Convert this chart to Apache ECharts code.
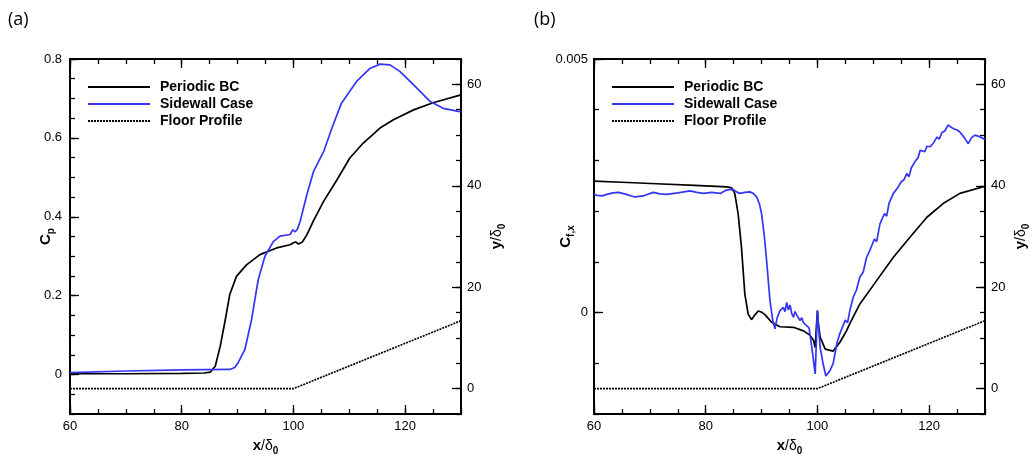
<!DOCTYPE html>
<html>
<head>
<meta charset="utf-8">
<script src="https://cdn.jsdelivr.net/npm/echarts@6.0.0/dist/echarts.min.js"></script>
<style>
html,body{margin:0;padding:0;background:#fff;}
#chart{width:1035px;height:458px;}
</style>
</head>
<body>
<div id="chart"></div>
<script>
// ---------- data ----------
const seriesNames = ['Periodic BC', 'Sidewall Case', 'Floor Profile'];
const xMajorTicks = [60, 80, 100, 120];
const cpMajorTicks = [0, 0.2, 0.4, 0.6, 0.8];
const cfMajorTicks = [0, 0.005];
const yMajorTicks = [0, 20, 40, 60];

// (a) pressure coefficient
const cpPeriodic = [[60,0.002],[70,0.002],[80,0.003],[84,0.004],[85.1,0.006],[86.0,0.021],[86.9,0.072],[87.8,0.139],[88.6,0.203],[89.8,0.249],[91.6,0.278],[94.0,0.304],[97.0,0.321],[99.4,0.329],[100.0,0.334],[100.4,0.336],[100.9,0.331],[101.6,0.336],[102.4,0.354],[103.6,0.390],[105.4,0.439],[107.8,0.494],[110.1,0.549],[112.5,0.587],[115.5,0.625],[117.9,0.646],[121.5,0.671],[125.0,0.689],[130,0.709]];
const cpSidewall = [[60,0.005],[70,0.009],[80,0.012],[88.6,0.013],[89.5,0.018],[90.1,0.030],[91.3,0.063],[92.5,0.139],[93.7,0.241],[94.9,0.300],[96.4,0.337],[97.6,0.351],[99.4,0.355],[99.9,0.367],[100.3,0.362],[100.7,0.368],[101.2,0.388],[102.4,0.456],[103.6,0.515],[105.4,0.565],[106.9,0.625],[108.6,0.688],[111.3,0.743],[113.7,0.776],[115.5,0.787],[117.3,0.785],[119.1,0.768],[122.1,0.726],[124.5,0.692],[126.8,0.675],[130,0.666]];

// (b) skin friction coefficient
const cfPeriodic = [[60,0.00259],[65,0.00257],[71.2,0.00254],[78,0.00251],[83.8,0.00248],[84.65,0.00246],[85.2,0.00235],[85.8,0.00195],[86.4,0.00129],[87.0,0.00037],[87.6,-0.00003],[88.2,-0.00014],[88.7,-0.00006],[89.4,0.00003],[90.0,0.00001],[90.6,-0.00004],[91.8,-0.00019],[93.3,-0.00028],[95.7,-0.00029],[97.5,-0.00036],[98.7,-0.00045],[99.3,-0.00055],[99.6,-0.00069],[99.8,-0.00030],[100.0,0.00004],[100.2,-0.00025],[100.5,-0.00049],[101.4,-0.00072],[102.8,-0.00076],[104.0,-0.00059],[105.2,-0.00036],[105.8,-0.00022],[107.6,0.00017],[110.6,0.00063],[113.6,0.00109],[116.6,0.00149],[119.6,0.00188],[122.5,0.00215],[125.5,0.00235],[129.7,0.00248],[130,0.00249]];
const cfSidewall = [[60,0.00233],[60.5,0.00231],[61.5,0.00230],[62.3,0.00233],[63.4,0.00236],[64.4,0.00237],[65.8,0.00233],[67.3,0.00228],[68.8,0.00230],[70.6,0.00237],[71.8,0.00234],[73.0,0.00233],[75,0.00236],[77.2,0.00240],[78.4,0.00237],[79.6,0.00235],[81,0.00237],[82.6,0.00235],[83.8,0.00242],[84.9,0.00243],[85.5,0.00238],[86.1,0.00235],[87,0.00237],[87.9,0.00238],[88.5,0.00235],[89.1,0.00228],[89.6,0.00215],[90.0,0.00195],[90.5,0.00150],[90.9,0.00103],[91.5,0.00024],[92.0,-0.00015],[92.4,-0.00032],[92.8,-0.00010],[93.3,0.00004],[93.9,0.00010],[94.2,0.00002],[94.5,0.00020],[94.8,0.00005],[95.1,0.00015],[95.4,-0.00002],[95.7,-0.00009],[96.0,0.00002],[96.3,-0.00005],[96.9,-0.00016],[97.2,-0.00010],[97.5,-0.00020],[98.1,-0.00026],[98.5,-0.00030],[99.0,-0.00069],[99.6,-0.00121],[99.8,-0.00060],[100.0,0.00004],[100.2,-0.00030],[100.5,-0.00069],[101.0,-0.00100],[101.5,-0.00125],[102.2,-0.00115],[102.8,-0.00101],[103.5,-0.00060],[104.0,-0.00042],[104.5,-0.00028],[105.0,-0.00015],[105.4,-0.00020],[105.8,0.00004],[106.4,0.00030],[107.0,0.00045],[107.6,0.00070],[108.2,0.00080],[108.8,0.00109],[109.4,0.00123],[110.2,0.00145],[110.6,0.00140],[111.2,0.00175],[112.0,0.00195],[112.4,0.00190],[112.8,0.00215],[113.6,0.00235],[114.3,0.00245],[115.0,0.00258],[115.5,0.00262],[116.0,0.00274],[116.4,0.00268],[116.8,0.00285],[117.6,0.00300],[118.0,0.00305],[118.4,0.00320],[119.2,0.00317],[119.6,0.00328],[120.2,0.00327],[120.8,0.00335],[121.4,0.00346],[121.8,0.00342],[122.3,0.00355],[122.8,0.00358],[123.4,0.00370],[124.0,0.00365],[124.5,0.00362],[125.0,0.00360],[125.5,0.00356],[126.3,0.00345],[127.0,0.00333],[127.6,0.00345],[128.2,0.00350],[129,0.00347],[129.7,0.00343],[130,0.00342]];

// floor geometry (y/delta0)
const floorProfile = [[60,0],[100,0],[130,13.4]];

// ---------- styling helpers ----------
const FONT = 'Liberation Sans';
const BLACK = '#000';
const BLUE = '#3535f5';
const nameRich = {
  b: {fontFamily: FONT, fontSize: 15, fontWeight: 'bold', color: BLACK, lineHeight: 20},
  n: {fontFamily: FONT, fontSize: 14, color: BLACK, lineHeight: 20},
  s: {fontFamily: FONT, fontSize: 10, fontWeight: 'bold', color: BLACK, lineHeight: 10, verticalAlign: 'bottom'}
};
const tickLine = {color: BLACK, width: 1.3};
const axisLineStyle = {show: true, onZero: false, lineStyle: {color: BLACK, width: 2}};
const labelStyle = {fontFamily: FONT, fontSize: 13, color: BLACK};

function makeAxes(g, pos, min, max, minorStep, majorTicks, showLabel, extra) {
  const base = {type: 'value', gridIndex: g, position: pos, min: min, max: max,
    splitLine: {show: false}, axisLine: axisLineStyle, nameMoveOverlap: false};
  const minor = Object.assign({}, base, {interval: minorStep,
    axisTick: {show: true, inside: true, length: 5, lineStyle: tickLine},
    axisLabel: {show: false}});
  const major = Object.assign({}, base, {interval: minorStep,
    axisTick: {show: true, inside: true, length: 9, customValues: majorTicks, lineStyle: tickLine},
    axisLabel: showLabel ? Object.assign({show: true, customValues: majorTicks}, labelStyle, extra.label || {}) : {show: false}},
    extra.name || {});
  return [minor, major];
}

const xName = {name: '{b|x}{n|/δ}{s|0}', nameLocation: 'middle', nameGap: 22, nameTextStyle: {rich: nameRich}};
const yRName = {name: '{b|y}{n|/δ}{s|0}', nameLocation: 'middle', nameRotate: 90, nameGap: 26, nameTextStyle: {rich: nameRich}};
const cpName = {name: '{b|C}{s|p}', nameLocation: 'middle', nameRotate: 90, nameGap: 14, nameTextStyle: {rich: nameRich}};
const cfName = {name: '{b|C}{s|f,x}', nameLocation: 'middle', nameRotate: 90, nameGap: 18, nameTextStyle: {rich: nameRich}};

const xAxes = [];
const yAxes = [];
for (let g = 0; g < 2; g++) {
  xAxes.push(...makeAxes(g, 'bottom', 60, 130, 5, xMajorTicks, true, {name: xName, label: {margin: 6}}));
  xAxes.push(...makeAxes(g, 'top', 60, 130, 5, xMajorTicks, false, {}));
  if (g === 0) {
    yAxes.push(...makeAxes(g, 'left', -0.1, 0.8, 0.05, cpMajorTicks, true, {name: cpName, label: {margin: 8}}));
  } else {
    yAxes.push(...makeAxes(g, 'left', -0.002, 0.005, 0.001, cfMajorTicks, true, {name: cfName, label: {margin: 6}}));
  }
  yAxes.push(...makeAxes(g, 'right', -5, 65, 5, yMajorTicks, true, {name: yRName, label: {margin: 6}}));
}

function lineSeries(name, data, g, right, color, type) {
  return {
    name: name, type: 'line', data: data, xAxisIndex: 4 * g + 1, yAxisIndex: 4 * g + (right ? 3 : 1),
    showSymbol: false, symbol: 'none', animation: false, z: right ? 2 : 3,
    lineStyle: {color: color, width: 1.7, type: type || 'solid'},
    itemStyle: {color: color}
  };
}

const legendBase = {orient: 'vertical', itemWidth: 62, itemHeight: 12, itemGap: 3, selectedMode: false,
  itemStyle: {color: 'rgba(0,0,0,0)', borderColor: 'rgba(0,0,0,0)', borderWidth: 0},
  data: seriesNames, textStyle: {fontFamily: FONT, fontSize: 14, fontWeight: 'bold', color: BLACK, padding: [0, 0, 0, 5]}};

const option = {
  backgroundColor: '#fff',
  animation: false,
  title: [
    {text: '(a)', left: 3, top: 6, textStyle: {fontFamily: 'Open Sans', fontSize: 18, fontWeight: 'normal', color: BLACK}},
    {text: '(b)', left: 529, top: 6, textStyle: {fontFamily: 'Open Sans', fontSize: 18, fontWeight: 'normal', color: BLACK}}
  ],
  legend: [
    Object.assign({left: 82, top: 75}, legendBase),
    Object.assign({left: 606, top: 75}, legendBase)
  ],
  grid: [
    {left: 70, right: 574, top: 59, bottom: 44, show: false, outerBoundsMode: 'none'},
    {left: 594, right: 50, top: 59, bottom: 44, show: false, outerBoundsMode: 'none'}
  ],
  xAxis: xAxes,
  yAxis: yAxes,
  series: [
    lineSeries(seriesNames[0], cpPeriodic, 0, false, BLACK),
    lineSeries(seriesNames[1], cpSidewall, 0, false, BLUE),
    lineSeries(seriesNames[2], floorProfile, 0, true, BLACK, [2, 1]),
    lineSeries(seriesNames[0], cfPeriodic, 1, false, BLACK),
    lineSeries(seriesNames[1], cfSidewall, 1, false, BLUE),
    lineSeries(seriesNames[2], floorProfile, 1, true, BLACK, [2, 1])
  ]
};

const chart = echarts.init(document.getElementById('chart'), null, {renderer: 'canvas'});
chart.setOption(option);
</script>
</body>
</html>
